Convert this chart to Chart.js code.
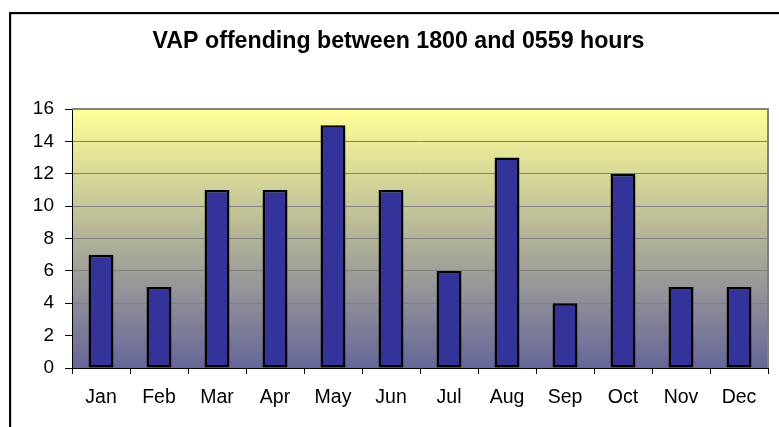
<!DOCTYPE html>
<html>
<head>
<meta charset="utf-8">
<script src="https://cdn.jsdelivr.net/npm/chart.js@4/dist/chart.umd.min.js"></script>
<style>
  html, body { margin: 0; padding: 0; background: #ffffff; }
  #wrap { position: relative; width: 779px; height: 427px; }
</style>
</head>
<body>
<div id="wrap"><canvas id="c" width="779" height="427"></canvas></div>
<script>
// Monthly counts of offences recorded between 1800 and 0559 hours
const months = ['Jan', 'Feb', 'Mar', 'Apr', 'May', 'Jun', 'Jul', 'Aug', 'Sep', 'Oct', 'Nov', 'Dec'];
const offences = [7, 5, 11, 11, 15, 11, 6, 13, 4, 12, 5, 5];
const yTicks = [0, 2, 4, 6, 8, 10, 12, 14, 16];
const chartTitle = 'VAP offending between 1800 and 0559 hours';

const FONT = '"Liberation Sans", Arial, sans-serif';

// Frame, title, plot background gradient and plot border
const decor = {
  id: 'decor',
  beforeDraw(chart) {
    const { ctx, chartArea: a, width, height } = chart;
    ctx.save();
    // outer frame (left and top edges)
    ctx.fillStyle = '#000000';
    ctx.fillRect(9, 12, width - 9, 2);
    ctx.fillRect(9, 12, 2, height - 12);
    ctx.fillStyle = 'rgba(0,0,0,0.18)';
    ctx.fillRect(11, 14, width - 11, 1);
    ctx.fillRect(11, 14, 1, height - 14);
    // chart title, centred on the frame
    ctx.fillStyle = '#000000';
    ctx.font = 'bold 23.2px ' + FONT;
    ctx.textAlign = 'center';
    ctx.textBaseline = 'alphabetic';
    ctx.fillText(chartTitle, 398.5, 48);
    // plot area gradient
    const g = ctx.createLinearGradient(0, a.top, 0, a.bottom);
    g.addColorStop(0, '#FFFF99');
    g.addColorStop(1, '#666699');
    ctx.fillStyle = g;
    ctx.fillRect(a.left, a.top, a.right - a.left, a.bottom - a.top);
    ctx.restore();
  },
  afterDatasetsDraw(chart) {
    const { ctx, chartArea: a } = chart;
    ctx.save();
    ctx.strokeStyle = '#808080';
    ctx.lineWidth = 2;
    ctx.beginPath();
    ctx.moveTo(a.left, a.top);
    ctx.lineTo(a.right, a.top);
    ctx.lineTo(a.right, a.bottom);
    ctx.stroke();
    ctx.restore();
  }
};

new Chart(document.getElementById('c'), {
  type: 'bar',
  data: {
    labels: months,
    datasets: [{
      data: offences,
      backgroundColor: '#333399',
      borderColor: '#000000',
      borderWidth: 2.5,
      borderSkipped: false,
      barPercentage: 0.43,
      categoryPercentage: 1.0
    }]
  },
  options: {
    responsive: false,
    animation: false,
    devicePixelRatio: 1,
    layout: { padding: { left: 0, right: 11, top: 109, bottom: 0 } },
    plugins: {
      legend: { display: false },
      tooltip: { enabled: false },
      title: { display: false }
    },
    scales: {
      x: {
        grid: {
          offset: true,
          drawOnChartArea: false,
          drawTicks: true,
          tickLength: 6,
          tickColor: '#000000',
          lineWidth: 1
        },
        border: { display: true, color: '#000000', width: 1 },
        ticks: {
          color: '#000000',
          font: { family: FONT, size: 19.5 },
          padding: 12,
          maxRotation: 0,
          autoSkip: false
        },
        afterFit(s) { s.height = 59; }
      },
      y: {
        min: 0,
        max: 16,
        afterBuildTicks(s) { s.ticks = yTicks.map(v => ({ value: v })); },
        grid: {
          color: '#808080',
          lineWidth: 1,
          drawTicks: true,
          tickLength: 7,
          tickColor: '#000000'
        },
        border: { display: true, color: '#000000', width: 1 },
        ticks: {
          color: '#000000',
          font: { family: FONT, size: 19 },
          padding: 11
        },
        afterFit(s) { s.width = 72; }
      }
    }
  },
  plugins: [decor]
});
</script>
</body>
</html>
